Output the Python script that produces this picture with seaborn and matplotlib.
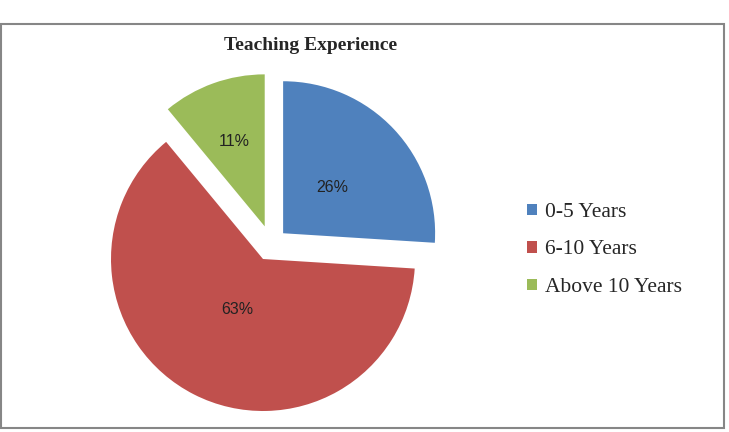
import numpy as np
import matplotlib
matplotlib.use("Agg")
import matplotlib.pyplot as plt
import seaborn as sns
from matplotlib.patches import Rectangle

sns.set_theme(style="white")

# data
categories = ["0-5 Years", "6-10 Years", "Above 10 Years"]
shares = [26, 63, 11]
pct_labels = ["26%", "63%", "11%"]
title = "Teaching Experience"

colors = ["#4F81BD", "#C0504D", "#9BBB59"]
# excel-style explode: (distance, direction in deg) per slice, in radius units
explode_dist = [0.215, 0.0, 0.215]
explode_dir = [52, 0, 87]
label_dist = [0.44, 0.37, 0.59]   # label placement inside each slice

fig = plt.figure(figsize=(7.29, 4.32), dpi=100)
W, H = 729., 432.

# pie axes: centre at (263, 259) px, radius 152 px
r_px, cx, cy = 152., 263., 259.
half = 1.4
ax = fig.add_axes([(cx - half * r_px) / W, (H - cy - half * r_px) / H,
                   2 * half * r_px / W, 2 * half * r_px / H])
wedges, _ = ax.pie(shares, colors=colors, startangle=90,
                   counterclock=False, radius=1.0,
                   wedgeprops=dict(linewidth=0))
for w, d, a in zip(wedges, explode_dist, explode_dir):
    w.set_center((d * np.cos(np.deg2rad(a)), d * np.sin(np.deg2rad(a))))
ax.set_xlim(-half, half)
ax.set_ylim(-half, half)
ax.set_aspect("equal")
ax.axis("off")

for w, lab, d in zip(wedges, pct_labels, label_dist):
    ang = np.deg2rad((w.theta1 + w.theta2) / 2)
    x0, y0 = w.center
    ax.text(x0 + d * np.cos(ang), y0 + d * np.sin(ang), lab,
            ha="center", va="center", fontsize=11.5, color="#222222",
            family="Liberation Sans")

fig.text(311 / W, 1 - 45 / H, title, ha="center", va="center",
         fontsize=14, fontweight="bold", family="Liberation Serif")

leg = fig.legend(wedges, categories, loc="center left",
                 bbox_to_anchor=(527 / W, 1 - 250 / H), frameon=False,
                 prop=dict(family="Liberation Serif", size=15.5),
                 handlelength=0.45, handleheight=0.45, handletextpad=0.4,
                 labelspacing=0.86, borderpad=0, borderaxespad=0)

# chart border
fig.patches.append(Rectangle((1 / W, 1 - 428 / H), 723 / W, 404 / H,
                             transform=fig.transFigure, fill=False,
                             edgecolor="#868686", linewidth=1.5))

fig.savefig("out.png", dpi=100)
